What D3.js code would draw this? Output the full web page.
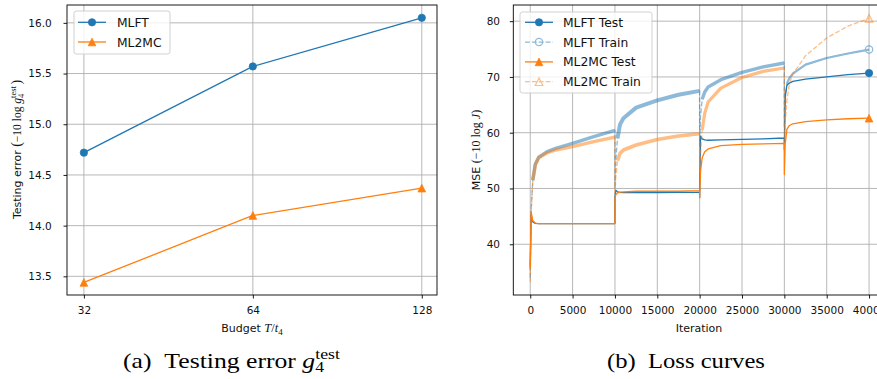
<!DOCTYPE html>
<html><head><meta charset="utf-8">
<script src="https://cdn.jsdelivr.net/npm/d3@7"></script>
<style>body{margin:0;background:#fff;} svg{display:block;}</style>
</head><body>
<svg id="c" width="877" height="379"></svg>
<script>
// ---------- Panel (a): testing error vs budget ----------
const budgets = [32, 64, 128];
const mlftTestErr = [14.72, 15.57, 16.05];
const ml2mcTestErr = [13.44, 14.10, 14.37];
const yTicksA = [13.5, 14.0, 14.5, 15.0, 15.5, 16.0];

// ---------- Panel (b): loss curves ----------
const iterations = [0, 100, 300, 600, 1000, 2000, 3000, 5000, 7500, 9990,
  10000, 10100, 10300, 10600, 11000, 12500, 15000, 17500, 19990,
  20000, 20100, 20300, 20600, 21000, 22500, 25000, 27500, 29990,
  30000, 30100, 30300, 30600, 31000, 32500, 35000, 37500, 40000];
const mlftTest = [36.0, 45.3, 44.0, 43.75, 43.7, 43.7, 43.7, 43.7, 43.7, 43.7,
  48.5, 49.7, 49.4, 49.3, 49.25, 49.25, 49.25, 49.3, 49.3,
  48.4, 59.4, 58.9, 58.7, 58.65, 58.7, 58.8, 58.9, 59.05,
  57.0, 66.5, 68.5, 68.9, 69.2, 69.6, 70.0, 70.4, 70.7];
const mlftTrain = [34.0, 46.0, 51.5, 54.4, 55.6, 56.6, 57.2, 58.1, 59.3, 60.4,
  50.0, 55.0, 59.0, 61.5, 62.6, 64.5, 65.8, 66.8, 67.5,
  57.5, 63.0, 66.0, 67.3, 68.2, 69.5, 70.8, 71.8, 72.5,
  61.0, 66.0, 68.8, 69.8, 70.6, 72.2, 73.4, 74.2, 74.9];
const ml2mcTest = [35.5, 45.8, 44.2, 43.8, 43.7, 43.7, 43.7, 43.7, 43.7, 43.7,
  48.3, 48.9, 49.2, 49.35, 49.4, 49.5, 49.5, 49.5, 49.6,
  48.3, 53.0, 55.5, 56.6, 57.1, 57.7, 57.9, 58.0, 58.1,
  52.5, 58.0, 60.6, 61.3, 61.6, 62.0, 62.3, 62.5, 62.6];
const ml2mcTrain = [33.2, 45.0, 51.5, 54.2, 55.5, 56.4, 56.9, 57.5, 58.4, 59.2,
  49.0, 52.0, 55.0, 56.3, 56.9, 57.8, 58.8, 59.4, 59.8,
  53.0, 56.0, 60.5, 63.5, 65.5, 68.0, 69.9, 71.0, 71.6,
  58.0, 62.0, 65.8, 68.8, 70.5, 73.8, 77.0, 79.1, 80.5];
const xTicksB = [0, 5000, 10000, 15000, 20000, 25000, 30000, 35000, 40000];
const yTicksB = [40, 50, 60, 70, 80];
const seriesNames = ["MLFT Test", "MLFT Train", "ML2MC Test", "ML2MC Train"];
const methodNames = ["MLFT", "ML2MC"];

// ---------- styles ----------
const BLUE = "#1f77b4", ORANGE = "#ff7f0e", GRID = "#b0b0b0";
const SANS = "'DejaVu Sans', sans-serif";
const SERIF = "'Liberation Serif', 'DejaVu Serif', serif";
const svg = d3.select("#c");

function triPath(cx, cy, m) { const h = m / 2; return `M${cx},${cy - h}L${cx - h},${cy + h}L${cx + h},${cy + h}Z`; }
function drawMarker(g, kind, cx, cy, color, filled) {
  if (kind === "circle") {
    g.append("circle").attr("cx", cx).attr("cy", cy).attr("r", 3.65)
      .attr("fill", filled ? color : "none").attr("stroke", color).attr("stroke-width", filled ? 0.8 : 1.2);
  } else {
    g.append("path").attr("d", triPath(cx, cy, 7.6))
      .attr("fill", filled ? color : "none").attr("stroke", color).attr("stroke-width", filled ? 0.8 : 1.2)
      .attr("stroke-linejoin", "miter");
  }
}

function grid(P, x, y, xt, yt) {
  const g = svg.append("g");
  g.selectAll("line.gx").data(xt).join("line").attr("class", "gx")
    .attr("x1", d => x(d)).attr("x2", d => x(d)).attr("y1", P.t).attr("y2", P.b)
    .attr("stroke", GRID).attr("stroke-width", 0.9);
  g.selectAll("line.gy").data(yt).join("line").attr("class", "gy")
    .attr("y1", d => y(d)).attr("y2", d => y(d)).attr("x1", P.l).attr("x2", P.r)
    .attr("stroke", GRID).attr("stroke-width", 0.9);
}
function axes(P, x, y, xt, yt, xf, yf, ypad) {
  const bx = svg.append("g").attr("transform", `translate(0,${P.b})`)
    .call(d3.axisBottom(x).tickValues(xt).tickFormat(xf).tickSize(3.5).tickPadding(8).tickSizeOuter(0));
  const ly = svg.append("g").attr("transform", `translate(${P.l},0)`)
    .call(d3.axisLeft(y).tickValues(yt).tickFormat(yf).tickSize(3.5).tickPadding(ypad).tickSizeOuter(0));
  [bx, ly].forEach(a => {
    a.select(".domain").remove();
    a.selectAll(".tick line").attr("stroke", "#000").attr("stroke-width", 0.9);
    a.selectAll("text").attr("font-family", SANS).attr("font-size", 10.5).attr("fill", "#111");
  });
  svg.append("rect").attr("x", P.l).attr("y", P.t).attr("width", P.r - P.l).attr("height", P.b - P.t)
    .attr("fill", "none").attr("stroke", "#000").attr("stroke-width", 0.9);
}

// ================= Panel (a) =================
const A = { l: 67, r: 437, t: 5, b: 295 };
const xA = d3.scaleLog().base(2).domain([Math.pow(2, 4.9), Math.pow(2, 7.09)]).range([A.l, A.r]);
const yA = d3.scaleLinear().domain([13.316, 16.176]).range([A.b, A.t]);
grid(A, xA, yA, budgets, yTicksA);
const seriesA = [
  { vals: mlftTestErr, color: BLUE, kind: "circle" },
  { vals: ml2mcTestErr, color: ORANGE, kind: "tri" }];
seriesA.forEach(s => {
  const line = d3.line().x((d, i) => xA(budgets[i])).y(d => yA(d));
  svg.append("path").attr("d", line(s.vals)).attr("fill", "none").attr("stroke", s.color)
    .attr("stroke-width", 1.3);
  const mg = svg.append("g");
  s.vals.forEach((v, i) => drawMarker(mg, s.kind, xA(budgets[i]), yA(v), s.color, true));
});
axes(A, xA, yA, budgets, yTicksA, d3.format("d"), d3.format(".1f"), 11.8);

// legend (a)
{
  const lg = svg.append("g");
  lg.append("rect").attr("x", 74).attr("y", 11).attr("width", 96).attr("height", 43).attr("rx", 2.5)
    .attr("fill", "#fff").attr("fill-opacity", 0.8).attr("stroke", "#cccccc").attr("stroke-width", 0.9);
  seriesA.forEach((s, i) => {
    const yy = 22.3 + i * 19.7;
    lg.append("line").attr("x1", 78).attr("x2", 106).attr("y1", yy).attr("y2", yy)
      .attr("stroke", s.color).attr("stroke-width", 1.3);
    drawMarker(lg, s.kind, 92, yy, s.color, true);
    lg.append("text").attr("x", 117).attr("y", yy + 4.5).attr("font-family", SANS)
      .attr("font-size", 12.3).attr("fill", "#111").text(methodNames[i]);
  });
}
// axis labels (a)
{
  const t = svg.append("text").attr("transform", "translate(21,149.5) rotate(-90)")
    .attr("text-anchor", "middle").attr("font-family", SANS).attr("font-size", 11).attr("fill", "#111");
  t.append("tspan").text("Testing error ");
  t.append("tspan").attr("font-family", SERIF).attr("font-size", 14).text("(");
  t.append("tspan").attr("font-family", SERIF).attr("font-size", 11.5).text("\u221210 log ");
  t.append("tspan").attr("font-family", SERIF).attr("font-style", "italic").attr("font-size", 11.5).text("g");
  t.append("tspan").attr("font-family", SERIF).attr("font-size", 8.5).attr("dy", 2.5).text("4");
  t.append("tspan").attr("font-family", SERIF).attr("font-size", 8.5).attr("dx", -4.2).attr("dy", -7.5).text("test");
  t.append("tspan").attr("font-family", SERIF).attr("font-size", 14).attr("dx", 1.5).attr("dy", 5).text(")");

  const b = svg.append("text").attr("x", 252).attr("y", 332).attr("text-anchor", "middle")
    .attr("font-family", SANS).attr("font-size", 11).attr("fill", "#111");
  b.append("tspan").text("Budget ");
  b.append("tspan").attr("font-family", SERIF).attr("font-style", "italic").attr("font-size", 12.5).text("T");
  b.append("tspan").attr("font-family", SERIF).attr("font-size", 12.5).text("/");
  b.append("tspan").attr("font-family", SERIF).attr("font-style", "italic").attr("font-size", 12.5).text("t");
  b.append("tspan").attr("font-family", SERIF).attr("font-size", 9).attr("dy", 2.5).text("4");
}

// ================= Panel (b) =================
const B = { l: 513.3, r: 886, t: 5, b: 295 };
const xB = d3.scaleLinear().domain([-2000, 42000]).range([B.l, B.r]);
const yB = d3.scaleLinear().domain([30.9, 82.9]).range([B.b, B.t]);
grid(B, xB, yB, xTicksB, yTicksB);
svg.append("clipPath").attr("id", "clipB").append("rect")
  .attr("x", B.l).attr("y", B.t).attr("width", B.r - B.l).attr("height", B.b - B.t);

const seriesB = [
  { vals: mlftTest, color: BLUE, kind: "circle", filled: true, train: false, bands: [] },
  { vals: mlftTrain, color: BLUE, kind: "circle", filled: false, train: true, bands: [3.4, 4, 3.4, 2.2] },
  { vals: ml2mcTest, color: ORANGE, kind: "tri", filled: true, train: false, bands: [] },
  { vals: ml2mcTrain, color: ORANGE, kind: "tri", filled: false, train: true, bands: [3.4, 3.6, 3.2, 0] }];
const segStarts = [300, 10300, 20300, 30300];
const segEnds = [9990, 19990, 29990, 40000];

const lineB = d3.line().x(d => xB(d[0])).y(d => yB(d[1]));
seriesB.forEach(s => {
  const g = svg.append("g").attr("opacity", s.train ? 0.5 : 1);
  const gc = g.append("g").attr("clip-path", "url(#clipB)");
  const pts = iterations.map((it, i) => [it, s.vals[i]]);
  if (s.train) {
    s.bands.forEach((w, k) => {
      if (!w) return;
      const seg = pts.filter(p => p[0] >= segStarts[k] && p[0] <= segEnds[k]);
      gc.append("path").attr("d", lineB(seg)).attr("fill", "none").attr("stroke", s.color)
        .attr("stroke-width", w).attr("stroke-linejoin", "round").attr("stroke-linecap", "butt");
    });
    gc.append("path").attr("d", lineB(pts)).attr("fill", "none").attr("stroke", s.color)
      .attr("stroke-width", 1.3).attr("stroke-dasharray", "4.8,2.1");
  } else {
    gc.append("path").attr("d", lineB(pts)).attr("fill", "none").attr("stroke", s.color)
      .attr("stroke-width", 1.3).attr("stroke-linejoin", "round");
  }
  const last = pts[pts.length - 1];
  drawMarker(g, s.kind, xB(last[0]), yB(last[1]), s.color, s.filled);
});
axes(B, xB, yB, xTicksB, yTicksB, d3.format("d"), d3.format("d"), 9.8);

// legend (b)
{
  const lg = svg.append("g");
  lg.append("rect").attr("x", 520).attr("y", 12).attr("width", 132).attr("height", 81).attr("rx", 2.5)
    .attr("fill", "#fff").attr("fill-opacity", 0.8).attr("stroke", "#cccccc").attr("stroke-width", 0.9);
  seriesB.forEach((s, i) => {
    const yy = 22.3 + i * 19.8;
    const eg = lg.append("g").attr("opacity", s.train ? 0.5 : 1);
    eg.append("line").attr("x1", 525).attr("x2", 553).attr("y1", yy).attr("y2", yy)
      .attr("stroke", s.color).attr("stroke-width", 1.3)
      .attr("stroke-dasharray", s.train ? "4.8,2.1" : null);
    drawMarker(eg, s.kind, 539, yy, s.color, s.filled);
    lg.append("text").attr("x", 563).attr("y", yy + 4.5).attr("font-family", SANS)
      .attr("font-size", 12.3).attr("fill", "#111").text(seriesNames[i]);
  });
}
// axis labels (b)
{
  svg.append("text").attr("x", 699).attr("y", 332).attr("text-anchor", "middle")
    .attr("font-family", SANS).attr("font-size", 11).attr("fill", "#111").text("Iteration");
  const t = svg.append("text").attr("transform", "translate(479.5,150) rotate(-90)")
    .attr("text-anchor", "middle").attr("font-family", SANS).attr("font-size", 11).attr("fill", "#111");
  t.append("tspan").text("MSE ");
  t.append("tspan").attr("font-family", SERIF).attr("font-size", 12).text("(\u221210 log ");
  t.append("tspan").attr("font-family", SERIF).attr("font-style", "italic").attr("font-size", 12).text("J");
  t.append("tspan").attr("font-family", SERIF).attr("font-size", 12).text(")");
}

// ================= captions =================
function caption(build, left, right) {
  const g = svg.append("g");
  const t = g.append("text").attr("x", 0).attr("y", 368).attr("font-family", SERIF)
    .attr("font-size", 21).attr("fill", "#000");
  build(t);
  const w = t.node().getBBox().width;
  g.attr("transform", `translate(${left},0) scale(${(right - left) / w},1)`);
}
caption(t => {
  t.append("tspan").text("(a)\u2002Testing error ");
  t.append("tspan").attr("font-style", "italic").text("g");
  t.append("tspan").attr("font-size", 14.5).attr("dy", 4.5).text("4");
  t.append("tspan").attr("font-size", 14.5).attr("dx", -7.2).attr("dy", -13.5).text("test");
}, 123, 340);
caption(t => {
  t.append("tspan").text("(b)\u2002Loss curves");
}, 607, 765);
</script>
</body></html>
